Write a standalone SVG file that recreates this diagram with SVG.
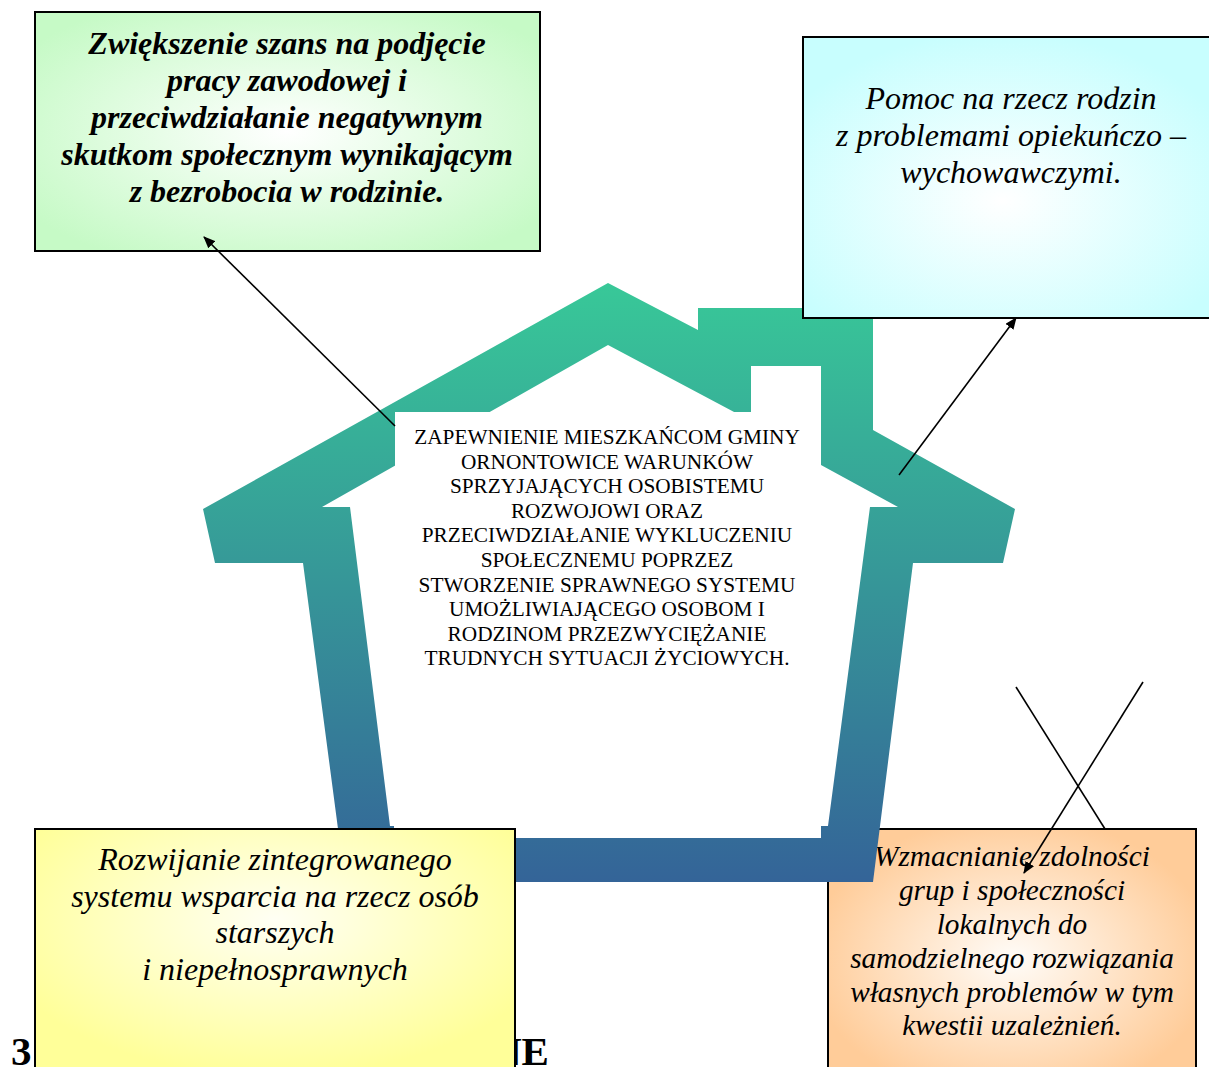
<svg xmlns="http://www.w3.org/2000/svg" width="1209" height="1067" viewBox="0 0 1209 1067">
<style>
.box{stroke:#000;stroke-width:2}
.t{font-family:"Liberation Serif","Times New Roman",serif;fill:#000;text-anchor:middle}
.bi{font-size:32px;font-weight:bold;font-style:italic}
.it{font-size:32px;font-style:italic}
.it2{font-size:29.3px;font-style:italic}
.ct{font-size:21.3px}
.h{font-family:"Liberation Serif","Times New Roman",serif;font-size:41px;font-weight:bold;fill:#000}
.conn{stroke:#000;stroke-width:1.6;fill:none}
</style>
<defs>
<linearGradient id="houseG" gradientUnits="userSpaceOnUse" x1="0" y1="283" x2="0" y2="882">
<stop offset="0" stop-color="#38C898"/>
<stop offset="1" stop-color="#346498"/>
</linearGradient>
<radialGradient id="gGreen" cx="0.5" cy="0.5" r="0.62"><stop offset="0" stop-color="#FFFFFF"/><stop offset="1" stop-color="#C6FAC6"/></radialGradient>
<radialGradient id="gCyan" cx="0.48" cy="0.58" r="0.6"><stop offset="0" stop-color="#FFFFFF"/><stop offset="1" stop-color="#C8FEFE"/></radialGradient>
<radialGradient id="gYellow" cx="0.5" cy="0.35" r="0.6"><stop offset="0" stop-color="#FFFFF4"/><stop offset="1" stop-color="#FFFF99"/></radialGradient>
<radialGradient id="gOrange" cx="0.5" cy="0.5" r="0.55"><stop offset="0" stop-color="#FFFCF8"/><stop offset="1" stop-color="#FFCC99"/></radialGradient>
<marker id="arr" viewBox="0 0 12 10" refX="11" refY="5" markerWidth="12" markerHeight="10" markerUnits="userSpaceOnUse" orient="auto">
<path d="M0,0 L12,5 L0,10 Z" fill="#000"/>
</marker>
</defs>

<g id="heading">
<text class="h" x="11" y="1065">3</text>
<text class="h" x="492" y="1065">NE</text>
</g>

<g id="node-orange">
<rect class="box" x="828" y="829" width="368" height="260" fill="url(#gOrange)"/>
<text class="t it2" x="1012" y="866">Wzmacnianie zdolności</text>
<text class="t it2" x="1012" y="900">grup i społeczności</text>
<text class="t it2" x="1012" y="934">lokalnych do</text>
<text class="t it2" x="1012" y="968">samodzielnego rozwiązania</text>
<text class="t it2" x="1012" y="1002">własnych problemów w tym</text>
<text class="t it2" x="1012" y="1035">kwestii uzależnień.</text>
</g>

<g id="node-center">
<path fill="url(#houseG)" fill-rule="evenodd" d="M608,283 L698,330 L698,308 L873,308 L873,430 L1015,509 L1003,563 L913,563 L873,882 L345,882 L303,563 L215,563 L203,509 Z M608,345 L751,421 L751,366 L821,366 L821,465 L898,507 L870,507 L828,826 L821,826 L821,838 L394,838 L394,826 L390,826 L350,507 L322,507 Z"/>
<rect x="395" y="412" width="415" height="268" fill="#FFFFFF"/>
<text class="t ct" x="607" y="444">ZAPEWNIENIE MIESZKAŃCOM GMINY</text>
<text class="t ct" x="607" y="468.6">ORNONTOWICE WARUNKÓW</text>
<text class="t ct" x="607" y="493.2">SPRZYJAJĄCYCH OSOBISTEMU</text>
<text class="t ct" x="607" y="517.8">ROZWOJOWI ORAZ</text>
<text class="t ct" x="607" y="542.4">PRZECIWDZIAŁANIE WYKLUCZENIU</text>
<text class="t ct" x="607" y="567">SPOŁECZNEMU POPRZEZ</text>
<text class="t ct" x="607" y="591.6">STWORZENIE SPRAWNEGO SYSTEMU</text>
<text class="t ct" x="607" y="616.2">UMOŻLIWIAJĄCEGO OSOBOM I</text>
<text class="t ct" x="607" y="640.8">RODZINOM PRZEZWYCIĘŻANIE</text>
<text class="t ct" x="607" y="665.4">TRUDNYCH SYTUACJI ŻYCIOWYCH.</text>
</g>

<g id="node-yellow">
<rect class="box" x="35" y="829" width="480" height="260" fill="url(#gYellow)"/>
<text class="t it" x="275" y="870">Rozwijanie zintegrowanego</text>
<text class="t it" x="275" y="907">systemu wsparcia na rzecz osób</text>
<text class="t it" x="275" y="943">starszych</text>
<text class="t it" x="275" y="980">i niepełnosprawnych</text>
</g>

<g id="node-cyan">
<rect class="box" x="803" y="37" width="416" height="281" fill="url(#gCyan)"/>
<text class="t it" x="1011" y="109">Pomoc na rzecz rodzin</text>
<text class="t it" x="1011" y="146">z problemami opiekuńczo –</text>
<text class="t it" x="1011" y="183">wychowawczymi.</text>
</g>

<g id="node-green">
<rect class="box" x="35" y="12" width="505" height="239" fill="url(#gGreen)"/>
<text class="t bi" x="287" y="54">Zwiększenie szans na podjęcie</text>
<text class="t bi" x="287" y="91">pracy zawodowej i</text>
<text class="t bi" x="287" y="128">przeciwdziałanie negatywnym</text>
<text class="t bi" x="287" y="165">skutkom społecznym wynikającym</text>
<text class="t bi" x="287" y="202">z bezrobocia w rodzinie.</text>
</g>

<g id="connectors">
<line class="conn" x1="395" y1="426" x2="204" y2="237" marker-end="url(#arr)"/>
<line class="conn" x1="899" y1="475" x2="1016" y2="318" marker-end="url(#arr)"/>
<line class="conn" x1="1016" y1="687" x2="1105" y2="829"/>
<line class="conn" x1="1143" y1="682" x2="1024" y2="873" marker-end="url(#arr)"/>
</g>
</svg>
